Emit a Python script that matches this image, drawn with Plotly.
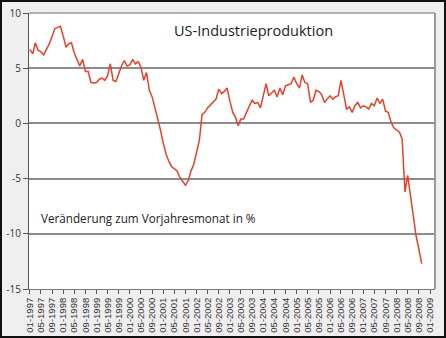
import plotly.graph_objects as go
import pandas as pd

# Monthly year-on-year change of US industrial production, Jan 1997 onward (%)
values = [
    6.7, 6.3, 7.3, 6.6, 6.5, 6.2, 6.7, 7.2, 7.9, 8.6, 8.7, 8.8,   # 1997
    7.9, 6.9, 7.2, 7.3, 6.4, 5.7, 5.2, 5.8, 4.7, 4.7, 3.7, 3.65,  # 1998
    3.7, 4.0, 4.1, 3.9, 4.3, 5.4, 3.9, 3.8, 4.5, 5.2, 5.7, 5.2,   # 1999
    5.3, 5.8, 5.4, 5.6, 5.1, 3.9, 4.6, 3.0, 2.4, 1.4, 0.6, -0.6,  # 2000
    -1.8, -2.8, -3.4, -3.9, -4.1, -4.3, -4.9, -5.3, -5.6, -5.2, -4.3, -3.7,  # 2001
    -2.5, -1.5, 0.8, 1.0, 1.4, 1.7, 2.0, 2.2, 3.1, 2.7, 2.9, 3.2,  # 2002
    2.0, 1.0, 0.6, -0.2, 0.4, 0.4, 1.0, 1.6, 2.1, 1.8, 1.9, 1.4,  # 2003
    2.6, 3.6, 2.5, 2.8, 3.0, 2.4, 3.2, 2.6, 3.4, 3.5, 3.6, 4.2,   # 2004
    3.6, 3.2, 4.4, 3.7, 3.6, 1.9, 2.1, 3.0, 2.9, 2.6, 1.9, 2.2,   # 2005
    2.5, 2.2, 2.4, 2.5, 3.9, 2.6, 1.3, 1.5, 1.0, 1.6, 1.9, 1.4,   # 2006
    1.6, 1.5, 1.3, 1.8, 1.6, 2.3, 1.8, 2.2, 1.1, 1.0, 0.1, -0.4,  # 2007
    -0.6, -0.8, -1.4, -6.2, -4.7, -6.4, -8.2, -10.2, -11.4, -12.7,  # 2008
]
dates = pd.date_range("1997-01-01", periods=len(values), freq="MS")

y_ticks = [-15, -10, -5, 0, 5, 10]
y_labels = ["-15", "-10", "-5", "0", "5", "10"]

title_text = "US-Industrieproduktion"
note_text = "Veränderung zum Vorjahresmonat in %"

W, H = 446, 338
ml, mr, mt, mb = 29, 11, 13, 49
pw, ph = W - ml - mr, H - mt - mb

fig = go.Figure()
fig.add_trace(go.Scatter(
    x=dates, y=values, mode="lines",
    line=dict(color="#e8402a", width=1.5),
    hoverinfo="skip", showlegend=False,
))

font_family = "Open Sans, Liberation Sans, sans-serif"

fig.update_layout(
    width=W, height=H,
    margin=dict(l=ml, r=mr, t=mt, b=mb, pad=0, autoexpand=False),
    paper_bgcolor="#efefef",
    plot_bgcolor="#ffffff",
    font=dict(family=font_family, size=10, color="#222222"),
    xaxis=dict(
        type="date",
        range=["1996-12-22", "2009-02-24"],
        tick0="1997-01-01", dtick="M4", tickformat="%m-%Y",
        tickangle=-90, ticks="outside", ticklen=4, tickcolor="#555555",
        showgrid=False, zeroline=False, automargin=False,
        showline=True, linecolor="#777777", linewidth=1,
        tickfont=dict(size=9.5, family="Liberation Sans Narrow, Liberation Sans, Arial, sans-serif",
                      color="#333333"),
        fixedrange=True,
    ),
    yaxis=dict(
        range=[-15, 10],
        tickvals=y_ticks, ticktext=y_labels,
        ticks="outside", ticklen=5, tickcolor="#555555",
        showgrid=True, gridcolor="#8c8c8c", gridwidth=1.5,
        zeroline=False, automargin=False,
        showline=True, linecolor="#555555", linewidth=1,
        tickfont=dict(size=10, color="#333333"),
        fixedrange=True,
    ),
    shapes=[
        dict(type="line", xref="paper", yref="paper", x0=1, x1=1, y0=0, y1=1,
             line=dict(color="#9a9a9a", width=2)),
        dict(type="line", xref="paper", yref="paper", x0=0, x1=1, y0=1, y1=1,
             line=dict(color="#9a9a9a", width=1.5)),
        dict(type="rect", xref="paper", yref="paper",
             x0=-(ml - 1) / pw, x1=1 + (mr - 1) / pw,
             y0=-(mb - 1) / ph, y1=1 + (mt - 1) / ph,
             line=dict(color="#111111", width=2), layer="above"),
    ],
    annotations=[
        dict(text=title_text, xref="paper", yref="paper",
             x=(172 - ml) / pw, y=1 - (30 - mt) / ph, xanchor="left", yanchor="middle",
             showarrow=False, font=dict(size=14.5, color="#222222")),
        dict(text=note_text, xref="paper", yref="paper",
             x=(39 - ml) / pw, y=1 - (218 - mt) / ph, xanchor="left", yanchor="middle",
             showarrow=False, font=dict(size=11.7, color="#222222")),
    ],
)

fig.write_html("out.html")
